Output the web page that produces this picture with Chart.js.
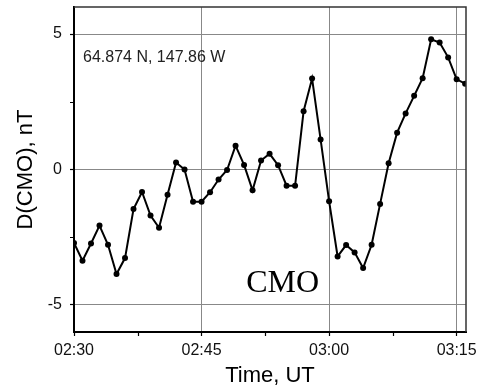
<!DOCTYPE html>
<html>
<head>
<meta charset="utf-8">
<script src="https://cdn.jsdelivr.net/npm/chart.js@4"></script>
<style>
  html, body { margin: 0; padding: 0; background: #fff; }
  #wrap { width: 479px; height: 389px; }
</style>
</head>
<body>
<div id="wrap"><canvas id="main"></canvas></div>
<script>
// minutes after 02:30 UT
const minutes = [0,1,2,3,4,5,6,7,8,9,10,11,12,13,14,15,16,17,18,19,20,21,22,23,
    24,25,26,27,28,29,30,31,32,33,34,35,36,37,38,39,40,41,42,43,44,45,46]
const dCMO = [-2.71,-3.37,-2.73,-2.07,-2.78,-3.86,-3.27,-1.46,-0.83,-1.70,-2.15,-0.93,
    0.26,0.00,-1.19,-1.19,-0.84,-0.37,-0.02,0.88,0.17,-0.77,0.33,0.58,0.16,-0.60,-0.60,
    2.15,3.36,1.11,-1.17,-3.21,-2.79,-3.06,-3.64,-2.78,-1.27,0.23,1.36,2.07,2.72,3.37,
    4.81,4.69,4.14,3.33,3.17]

const xTickValues = [0, 15, 30, 45]
const xTickLabels = ['02:30', '02:45', '03:00', '03:15']
const xMinorTicks = [7.5, 22.5, 37.5]
const yTickValues = [-5, 0, 5]
const yMinorTicks = [-2.5, 2.5]

const notes = [
    { text: '64.874 N, 147.86 W', x: 1.06, y: 4.15, font: '16px "Liberation Sans", Arial, sans-serif', color: '#222' },
    { text: 'CMO', x: 20.26, y: -4.22, font: '32px "Liberation Serif", "Times New Roman", serif', color: '#000' }
]

const ctx = document.querySelector('#main').getContext('2d')

const framePlugin = {
    id: 'frame',
    afterDraw(chart) {
        const c = chart.ctx
        const a = chart.chartArea
        const xs = chart.scales.x
        const ys = chart.scales.y
        c.save()
        // top and right edges of the box
        c.strokeStyle = '#333'
        c.lineWidth = 1.5
        c.beginPath()
        c.moveTo(a.left, a.top)
        c.lineTo(a.right, a.top)
        c.lineTo(a.right, a.bottom)
        c.stroke()
        // minor tick marks
        c.strokeStyle = '#000'
        c.lineWidth = 1.2
        c.beginPath()
        xMinorTicks.forEach(v => {
            const px = Math.round(xs.getPixelForValue(v)) + 0.5
            c.moveTo(px, a.bottom)
            c.lineTo(px, a.bottom + 4)
        })
        yMinorTicks.forEach(v => {
            const py = Math.round(ys.getPixelForValue(v)) + 0.5
            c.moveTo(a.left, py)
            c.lineTo(a.left - 4, py)
        })
        c.stroke()
        // text notes
        c.textAlign = 'left'
        c.textBaseline = 'middle'
        notes.forEach(n => {
            c.font = n.font
            c.fillStyle = n.color
            c.fillText(n.text, xs.getPixelForValue(n.x), ys.getPixelForValue(n.y))
        })
        c.restore()
    }
}

let chart = new Chart(ctx, {
    type: 'line',
    data: {
        labels: minutes,
        datasets: [{
            label: 'D(CMO)',
            data: minutes.map((m, i) => ({ x: m, y: dCMO[i] })),
            borderColor: '#000',
            backgroundColor: '#000',
            borderWidth: 2,
            pointRadius: 3,
            pointBorderWidth: 0,
            tension: 0
        }]
    },
    options: {
        responsive: true,
        maintainAspectRatio: false,
        animation: false,
        layout: { padding: { top: 7, right: 13, left: 0, bottom: 0 } },
        plugins: {
            legend: { display: false },
            tooltip: { enabled: false }
        },
        scales: {
            x: {
                type: 'linear',
                min: 0,
                max: 46.1,
                afterBuildTicks: scale => {
                    scale.ticks = xTickValues.map(v => ({ value: v }))
                },
                afterFit: scale => {
                    scale.height = 57
                    scale.paddingLeft = 0
                    scale.paddingRight = 0
                },
                ticks: {
                    color: '#111',
                    font: { family: '"Liberation Sans", Arial, sans-serif', size: 16 },
                    padding: 5,
                    maxRotation: 0,
                    autoSkip: false,
                    callback: v => xTickLabels[xTickValues.indexOf(v)]
                },
                grid: {
                    color: '#888',
                    lineWidth: 1,
                    tickLength: 4,
                    tickColor: '#000',
                    tickWidth: 1.2
                },
                border: { color: '#000', width: 2 },
                title: {
                    display: true,
                    text: 'Time, UT',
                    color: '#000',
                    font: { family: '"Liberation Sans", Arial, sans-serif', size: 22 },
                    padding: { top: 0, bottom: 0 }
                }
            },
            y: {
                min: -6,
                max: 6,
                afterBuildTicks: scale => {
                    scale.ticks = yTickValues.map(v => ({ value: v }))
                },
                afterFit: scale => {
                    scale.width = 74
                    scale.paddingTop = 0
                    scale.paddingBottom = 0
                },
                ticks: {
                    color: '#111',
                    font: { family: '"Liberation Sans", Arial, sans-serif', size: 16 },
                    padding: 8
                },
                grid: {
                    color: '#888',
                    lineWidth: 1,
                    tickLength: 4,
                    tickColor: '#000',
                    tickWidth: 1.2
                },
                border: { color: '#000', width: 2 },
                title: {
                    display: true,
                    text: 'D(CMO), nT',
                    color: '#000',
                    font: { family: '"Liberation Sans", Arial, sans-serif', size: 22 },
                    padding: { top: 13, bottom: 0 }
                }
            }
        }
    },
    plugins: [framePlugin]
})
</script>
</body>
</html>
